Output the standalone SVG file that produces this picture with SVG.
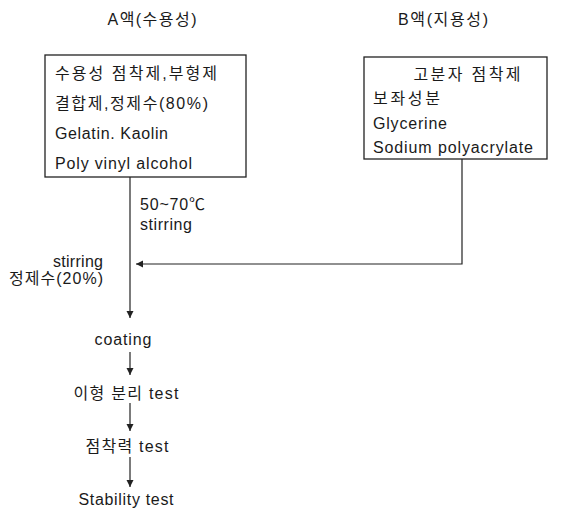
<svg xmlns="http://www.w3.org/2000/svg" width="568" height="510" viewBox="0 0 568 510">
<style>
text{font-family:"Liberation Sans","Noto Sans CJK KR",sans-serif;font-size:16px;fill:#1a1a1a}
.box{fill:#fff;stroke:#222;stroke-width:1.3}
.ln{fill:none;stroke:#222;stroke-width:1.2}
.mid{text-anchor:middle}
</style>
<defs>
<marker id="ah" viewBox="0 0 10 10" refX="10" refY="5" markerWidth="7" markerHeight="8" markerUnits="userSpaceOnUse" orient="auto">
<path d="M0,0 L10,5 L0,10 Z" fill="#222"/>
</marker>
</defs>
<rect width="568" height="510" fill="#fff"/>
<g id="titleA"><text x="152" y="25" class="mid" textLength="89" lengthAdjust="spacing">A액(수용성)</text></g>
<g id="titleB"><text x="443" y="25" class="mid" textLength="90" lengthAdjust="spacing">B액(지용성)</text></g>
<g id="boxA">
<rect class="box" x="45" y="55" width="201" height="122"/>
<text x="55" y="79" textLength="162" lengthAdjust="spacing">수용성 점착제,부형제</text>
<text x="55" y="109" textLength="153" lengthAdjust="spacing">결합제,정제수(80%)</text>
<text x="55" y="139" textLength="113" lengthAdjust="spacing">Gelatin. Kaolin</text>
<text x="55" y="169" textLength="137" lengthAdjust="spacing">Poly vinyl alcohol</text>
</g>
<g id="boxB">
<rect class="box" x="364" y="57" width="183" height="102"/>
<text x="467" y="80" class="mid" textLength="107" lengthAdjust="spacing">고분자 점착제</text>
<text x="373" y="104" textLength="67" lengthAdjust="spacing">보좌성분</text>
<text x="373" y="129" textLength="74" lengthAdjust="spacing">Glycerine</text>
<text x="373" y="153" textLength="160" lengthAdjust="spacing">Sodium polyacrylate</text>
</g>
<g id="connectors">
<line class="ln" x1="130" y1="177" x2="130" y2="318" marker-end="url(#ah)"/>
<polyline class="ln" points="462,159 462,264 136,264" marker-end="url(#ah)"/>
<line class="ln" x1="130" y1="352" x2="130" y2="375" marker-end="url(#ah)"/>
<line class="ln" x1="130" y1="403" x2="130" y2="431" marker-end="url(#ah)"/>
<line class="ln" x1="130" y1="457" x2="130" y2="487" marker-end="url(#ah)"/>
</g>
<g id="labels">
<text x="140" y="210" textLength="65" lengthAdjust="spacing">50~70℃</text>
<text x="140" y="230" textLength="52" lengthAdjust="spacing">stirring</text>
<text x="103" y="267" text-anchor="end" textLength="50" lengthAdjust="spacing">stirring</text>
<text x="103" y="284" text-anchor="end" textLength="94" lengthAdjust="spacing">정제수(20%)</text>
</g>
<g id="coating"><text x="123" y="345" class="mid" textLength="57" lengthAdjust="spacing">coating</text></g>
<g id="release"><text x="126" y="399" class="mid" textLength="105" lengthAdjust="spacing">이형 분리 test</text></g>
<g id="adhesion"><text x="127" y="452" class="mid" textLength="83" lengthAdjust="spacing">점착력 test</text></g>
<g id="stability"><text x="126" y="505" class="mid" textLength="95" lengthAdjust="spacing">Stability test</text></g>
</svg>
